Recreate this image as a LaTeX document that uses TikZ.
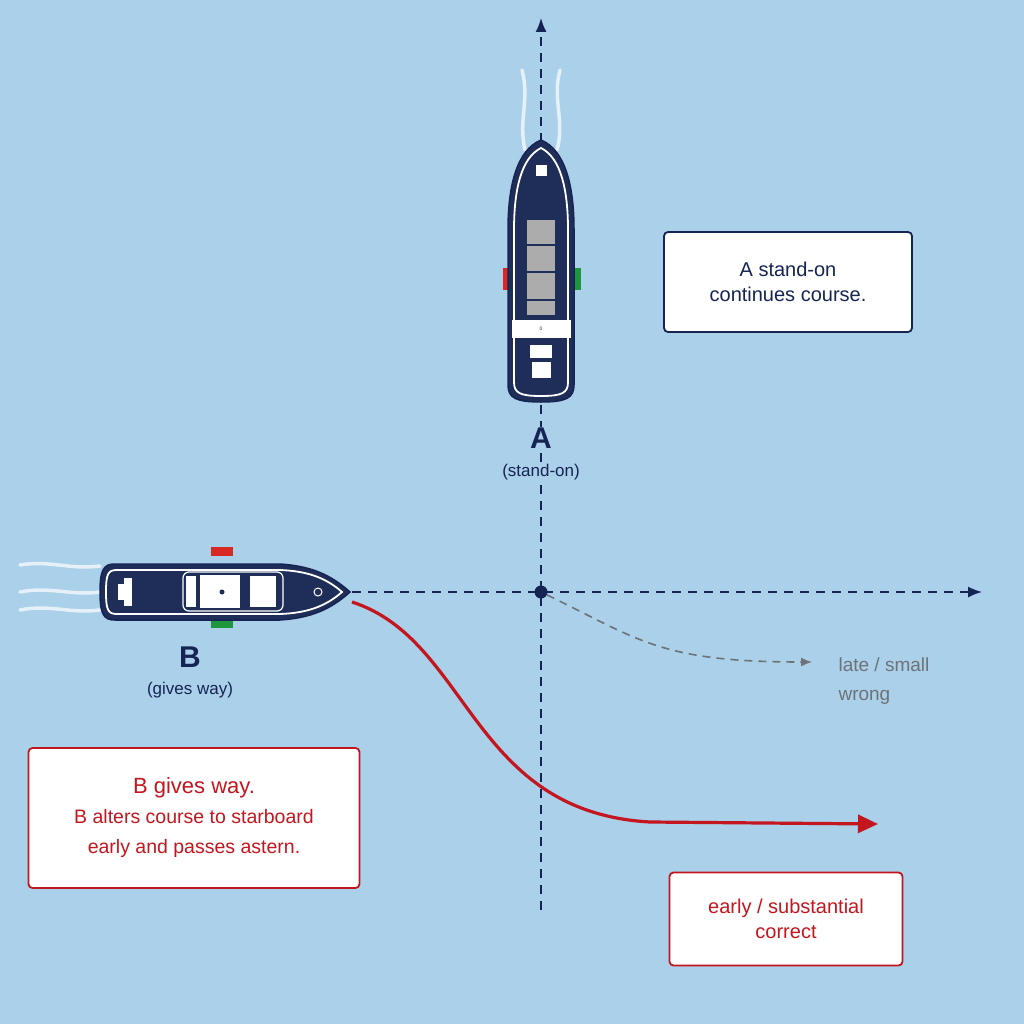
\documentclass[tikz,border=0pt]{standalone}
\usepackage{fontspec}
\setmainfont{Liberation Sans}
\usetikzlibrary{arrows.meta}
\definecolor{sea}{RGB}{170,208,234}
\definecolor{navy}{RGB}{22,36,84}
\definecolor{hull}{RGB}{30,46,88}
\definecolor{redc}{RGB}{196,22,30}
\definecolor{greyc}{RGB}{110,115,120}
\definecolor{gl}{RGB}{215,40,35}
\definecolor{gg}{RGB}{30,150,60}
\begin{document}
\begin{tikzpicture}[x=1pt,y=-1pt,
 course/.style={navy,line width=1.6pt,dash pattern=on 9pt off 7pt},
 box/.style={draw,fill=white,rounded corners=4pt,line width=1.8pt,align=center,font=\fontsize{20}{25}\selectfont},
 wake/.style={white,line width=3.5pt,opacity=.7,line cap=round},
 lbl/.style={navy,font=\fontsize{17}{20}\selectfont}]
\fill[sea] (0,0) rectangle (1024,1024);
\useasboundingbox (0,0) rectangle (1024,1024);
% course lines
\coordinate (atop) at (541,18);
\coordinate (abot) at (541,910);
\coordinate (bend) at (982,592);
\coordinate (bstart) at (352,592);
\node[circle,fill=navy,inner sep=0pt,minimum size=13pt] (x) at (541,592) {};
\draw[course,-{Latex[length=14pt,width=11pt]}] (abot) -- (atop);
\draw[course,-{Latex[length=14pt,width=11pt]}] (bstart) -- (bend);
% wake A
\draw[wake] (525,150) .. controls (518,120) and (530,100) .. (522,70);
\draw[wake] (557,150) .. controls (565,120) and (552,100) .. (560,70);
% boat A
\fill[gl] (503,268) rectangle (513,290);
\fill[gg] (571,268) rectangle (581,290);
\draw[fill=hull,line width=1.5pt,draw=navy] (541,140) .. controls (565,150) and (574,185) .. (574,230) -- (574,385) .. controls (574,398) and (566,402) .. (541,402) .. controls (516,402) and (508,398) .. (508,385) -- (508,230) .. controls (508,185) and (517,150) .. (541,140) -- cycle;
\draw[white,line width=1.8pt] (541,148) .. controls (561,158) and (568,190) .. (568,230) -- (568,382) .. controls (568,393) and (562,396) .. (541,396) .. controls (520,396) and (514,393) .. (514,382) -- (514,230) .. controls (514,190) and (521,158) .. (541,148) -- cycle;
\fill[white] (536,165) rectangle (547,176);
\fill[gray!65] (527,220) rectangle (555,315);
\foreach \yy in {245,272,300}{\draw[hull,line width=1.2pt] (527,\yy) -- (555,\yy);}
\fill[white] (512,320) rectangle (571,338);
\node[font=\tiny,hull] (a0) at (541,329) {0};
\fill[white] (530,345) rectangle (552,358);
\fill[white] (532,362) rectangle (551,378);
% wake B
\draw[wake] (20,565) .. controls (50,560) and (70,570) .. (100,566);
\draw[wake] (20,592) .. controls (50,586) and (70,596) .. (100,592);
\draw[wake] (20,610) .. controls (50,604) and (70,614) .. (100,610);
% boat B
\fill[gl] (211,547) rectangle (233,556);
\fill[gg] (211,619) rectangle (233,628);
\draw[fill=hull,line width=1.5pt,draw=navy] (350,592) .. controls (330,610) and (310,618) .. (280,620) -- (115,620) .. controls (104,620) and (100,615) .. (100,592) .. controls (100,569) and (104,564) .. (115,564) -- (280,564) .. controls (310,566) and (330,574) .. (350,592) -- cycle;
\draw[white,line width=1.8pt] (342,592) .. controls (325,607) and (306,613) .. (280,614) -- (117,614) .. controls (108,614) and (106,610) .. (106,592) .. controls (106,574) and (108,570) .. (117,570) -- (280,570) .. controls (306,571) and (325,577) .. (342,592) -- cycle;
\fill[white] (118,584) rectangle (132,600);
\fill[white] (124,578) rectangle (132,606);
\draw[white,rounded corners=6pt,line width=1.2pt] (183,572) rectangle (283,611);
\fill[white] (200,575) rectangle (240,608);
\fill[white] (250,576) rectangle (276,607);
\fill[white] (186,576) rectangle (196,607);
\fill[hull] (222,592) circle (2.5pt);
\draw[white,line width=1pt] (318,592) circle (4pt);
% manoeuvres
\draw[redc,line width=3.2pt,-{Triangle[length=20pt,width=18pt]}] (bstart) ++(0,10) .. controls (470,640) and (470,812) .. (650,822) -- (878,824) coordinate (rend);
\coordinate (gend) at (812,662);
\draw[greyc,line width=1.6pt,dash pattern=on 8pt off 6pt,-{Latex[length=11pt,width=9pt]}] (x) .. controls (640,640) and (660,662) .. (gend);
% labels
\node[navy,fill=sea,inner sep=1pt,font=\bfseries\fontsize{30}{30}\selectfont] (la) at (541,438) {A};
\node[lbl,fill=sea,inner sep=1pt] (lsa) at (541,472) {(stand-on)};
\node[navy,font=\bfseries\fontsize{30}{30}\selectfont] (lb) at (190,657) {B};
\node[lbl] (lgb) at (190,690) {(gives way)};
\node[greyc,align=left,font=\fontsize{19}{29}\selectfont,anchor=west] (late) at (835,681) {late / small\\wrong};
\node[box,draw=navy,text=navy,minimum width=248pt,minimum height=100pt] (ba) at (788,282) {A stand-on\\continues course.};
\node[box,draw=redc,text=redc,minimum width=331pt,minimum height=140pt,font=\fontsize{19.5}{30}\selectfont] (bb) at (194,818) {{\fontsize{22}{30}\selectfont B gives way.}\\B alters course to starboard\\early and passes astern.};
\node[box,draw=redc,text=redc,minimum width=233pt,minimum height=93pt] (bc) at (786,919) {early / substantial\\correct};
\end{tikzpicture}
\end{document}
